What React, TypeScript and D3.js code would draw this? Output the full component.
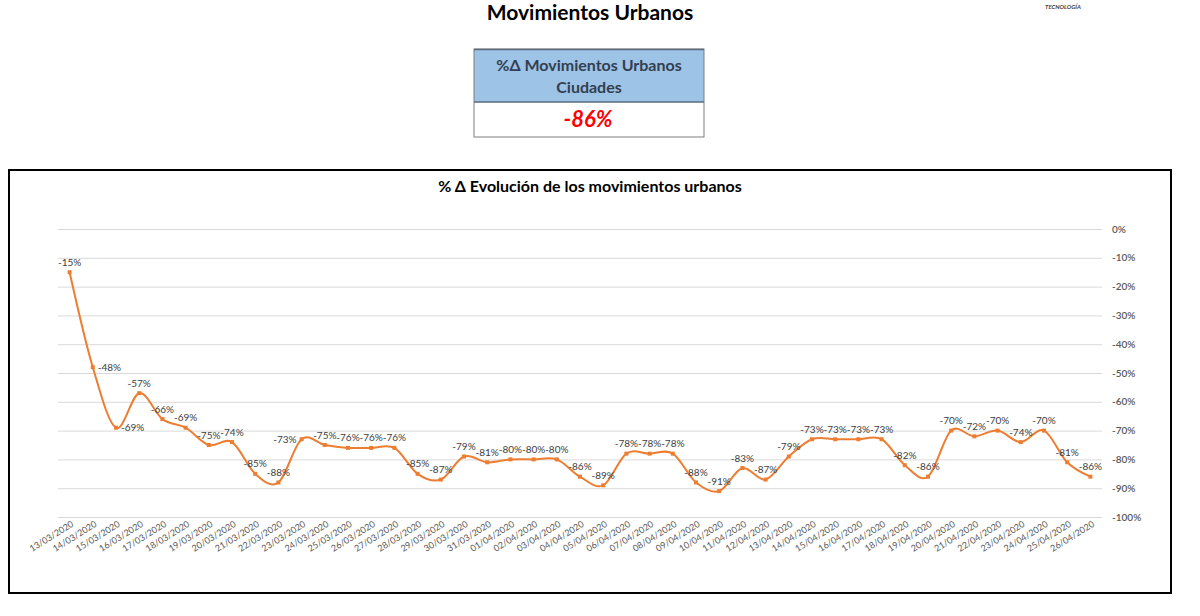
import * as d3 from 'd3'

// dates shown on the x axis
const dates = [
  '13/03/2020', '14/03/2020', '15/03/2020', '16/03/2020', '17/03/2020', '18/03/2020',
  '19/03/2020', '20/03/2020', '21/03/2020', '22/03/2020', '23/03/2020', '24/03/2020',
  '25/03/2020', '26/03/2020', '27/03/2020', '28/03/2020', '29/03/2020', '30/03/2020',
  '31/03/2020', '01/04/2020', '02/04/2020', '03/04/2020', '04/04/2020', '05/04/2020',
  '06/04/2020', '07/04/2020', '08/04/2020', '09/04/2020', '10/04/2020', '11/04/2020',
  '12/04/2020', '13/04/2020', '14/04/2020', '15/04/2020', '16/04/2020', '17/04/2020',
  '18/04/2020', '19/04/2020', '20/04/2020', '21/04/2020', '22/04/2020', '23/04/2020',
  '24/04/2020', '25/04/2020', '26/04/2020',
]

// % change in urban movements
const values = [
  -15, -48, -69, -57, -66, -69, -75, -74, -85, -88, -73, -75, -76, -76, -76,
  -85, -87, -79, -81, -80, -80, -80, -86, -89, -78, -78, -78, -88, -91, -83,
  -87, -79, -73, -73, -73, -73, -82, -86, -70, -72, -70, -74, -70, -81, -86,
]

const yTicks = [0, -10, -20, -30, -40, -50, -60, -70, -80, -90, -100]

const kpiValue = -86

// labels that Excel put beside the point instead of above it
const rightLabels = [1, 2]
const leftLabels = [10]

const ORANGE = '#ED7D31'
const FONT = 'Lato, "Open Sans", sans-serif'

export default function App() {
  const plot = { left: 58, right: 1102, top: 229, bottom: 517 }

  const x = d3
    .scaleBand<string>()
    .domain(dates)
    .range([plot.left, plot.right])

  const y = d3.scaleLinear().domain([-100, 0]).range([plot.bottom, plot.top])

  const cx = (d: string) => (x(d) ?? 0) + x.bandwidth() / 2

  const points = dates.map((d, i) => [cx(d), y(values[i])] as [number, number])

  const line = d3
    .line<[number, number]>()
    .x(d => d[0])
    .y(d => d[1])
    .curve(d3.curveCatmullRom.alpha(0))

  const pct = (v: number) => `${v}%`

  return (
    <div style={{ position: 'absolute', left: 0, top: 0 }}>
      <svg width={1200} height={616} style={{ display: 'block', fontFamily: FONT }}>
        <rect width={1200} height={616} fill="#fff" />

        {/* page title */}
        <text x={590} y={20} textAnchor="middle" fontSize={21} fontWeight={700} fill="#000">
          Movimientos Urbanos
        </text>
        <text
          x={1063}
          y={9}
          textAnchor="middle"
          fontSize={6}
          fontWeight={700}
          fontStyle="italic"
          fill="#404040"
        >
          TECNOLOGÍA
        </text>

        {/* KPI box */}
        <rect x={474} y={49} width={230} height={53} fill="#9DC3E6" />
        <rect x={474} y={102} width={230} height={35} fill="#fff" />
        <rect x={474} y={49} width={230} height={88} fill="none" stroke="#7F7F7F" strokeWidth={1} />
        <line x1={474} x2={704} y1={49.5} y2={49.5} stroke="#5B6B7F" strokeWidth={1.5} />
        <line x1={474} x2={704} y1={102} y2={102} stroke="#5B6B7F" strokeWidth={1.5} />
        <text x={589} y={71} textAnchor="middle" fontSize={16} fontWeight={700} fill="#333F50">
          %Δ Movimientos Urbanos
        </text>
        <text x={589} y={93} textAnchor="middle" fontSize={16} fontWeight={700} fill="#333F50">
          Ciudades
        </text>
        <text
          x={588}
          y={127}
          textAnchor="middle"
          fontSize={22}
          fontWeight={700}
          fontStyle="italic"
          fill="#FF0000"
        >
          {pct(kpiValue)}
        </text>

        {/* chart frame */}
        <rect x={9} y={170} width={1162} height={423} fill="#fff" stroke="#000" strokeWidth={2} />
        <text x={590} y={192} textAnchor="middle" fontSize={16} fontWeight={700} fill="#000">
          % Δ Evolución de los movimientos urbanos
        </text>

        {/* grid + y axis (right side) */}
        {yTicks.map(t => (
          <g key={t}>
            <line
              x1={plot.left}
              x2={plot.right}
              y1={y(t) + 0.5}
              y2={y(t) + 0.5}
              stroke="#D9D9D9"
              strokeWidth={1}
            />
            <text x={1112} y={y(t)} dy="0.35em" fontSize={10} fontWeight={600} fill="#595959">
              {pct(t)}
            </text>
          </g>
        ))}

        {/* x axis labels */}
        {dates.map(d => (
          <text
            key={d}
            transform={`translate(${cx(d) + 3},${plot.bottom + 6}) rotate(-32)`}
            textAnchor="end"
            dy="0.35em"
            fontSize={9}
            fill="#595959"
          >
            {d}
          </text>
        ))}

        {/* series */}
        <path d={line(points) ?? ''} fill="none" stroke={ORANGE} strokeWidth={2} />
        {points.map(([px, py], i) => (
          <rect key={i} x={px - 2} y={py - 2} width={4} height={4} fill={ORANGE} />
        ))}

        {/* data labels */}
        {points.map(([px, py], i) => {
          const right = rightLabels.includes(i)
          const left = leftLabels.includes(i)
          const lx = right ? px + 5 : left ? px - 5 : px
          const ly = right || left ? py : py - 10
          return (
            <text
              key={i}
              x={lx}
              y={ly}
              dy="0.35em"
              textAnchor={right ? 'start' : left ? 'end' : 'middle'}
              fontSize={10}
              fill="#404040"
            >
              {pct(values[i])}
            </text>
          )
        })}
      </svg>
    </div>
  )
}
